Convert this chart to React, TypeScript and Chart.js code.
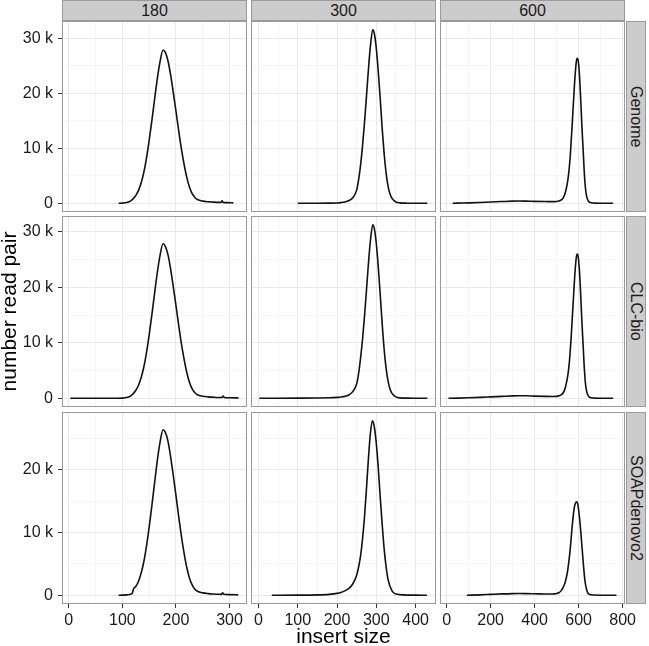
import React, { useEffect, useRef } from 'react';
import { Chart, registerables } from 'chart.js';

Chart.register(...registerables);

const FONT = "'Liberation Sans', Arial, Helvetica, sans-serif";

const columnLabels = ['180', '300', '600'];
const rowLabels = ['Genome', 'CLC-bio', 'SOAPdenovo2'];
const xAxisTitle = 'insert size';
const yAxisTitle = 'number read pair';

// ---- data: insert size (x) and number of read pairs (y) per panel ----
const genome180X = [93, 100, 110, 115, 120, 125, 130, 135, 140, 145, 150, 155, 160, 165, 170, 176, 180, 185, 190, 195, 200, 205, 210, 215, 220, 225, 230, 235, 240, 250, 260, 270, 280, 284, 286, 288, 295, 307];
const genome180Y = [0, 40, 200, 400, 800, 1400, 2300, 3700, 5600, 8200, 11400, 15000, 18800, 22500, 25600, 27900, 27500, 26000, 23400, 20200, 16800, 13300, 10000, 7200, 4800, 3000, 1800, 1100, 700, 400, 280, 220, 170, 160, 450, 170, 120, 80];

const clc180X = [3, 50, 90, 100, 110, 115, 120, 125, 130, 135, 140, 145, 150, 155, 160, 165, 170, 176, 180, 185, 190, 195, 200, 205, 210, 215, 220, 225, 230, 235, 240, 250, 260, 270, 280, 286, 288, 290, 300, 317];
const clc180Y = [0, 0, 10, 40, 200, 400, 800, 1400, 2300, 3700, 5600, 8200, 11400, 15000, 18800, 22500, 25600, 27850, 27450, 25950, 23350, 20150, 16750, 13250, 9950, 7150, 4750, 2950, 1750, 1050, 650, 380, 260, 200, 160, 150, 420, 160, 100, 60];

const soap180X = [93, 100, 110, 118, 121, 125, 130, 135, 140, 145, 150, 155, 160, 165, 170, 176, 180, 185, 190, 195, 200, 205, 210, 215, 220, 225, 230, 235, 240, 250, 260, 270, 280, 285, 287, 289, 300, 316];
const soap180Y = [0, 20, 80, 250, 1000, 1400, 2200, 3500, 5300, 7800, 10800, 14200, 17800, 21300, 24200, 26360, 26000, 24600, 22100, 19100, 15900, 12600, 9500, 6800, 4500, 2800, 1700, 1000, 650, 380, 260, 200, 160, 150, 400, 160, 110, 70];

const genome300X = [100, 150, 180, 200, 210, 220, 230, 240, 250, 255, 260, 265, 270, 275, 280, 285, 291, 295, 300, 305, 310, 315, 320, 325, 330, 335, 340, 350, 360, 380, 400, 430];
const genome300Y = [0, 5, 30, 70, 130, 250, 500, 1000, 2400, 4300, 7000, 10500, 14700, 19500, 24400, 28600, 31600, 30900, 28200, 24000, 19000, 13600, 9000, 5500, 3100, 1700, 900, 250, 80, 25, 10, 0];

const clc300X = [2, 50, 100, 150, 180, 200, 210, 220, 230, 240, 250, 255, 260, 265, 270, 275, 280, 285, 291, 295, 300, 305, 310, 315, 320, 325, 330, 335, 340, 350, 360, 380, 400, 430];
const clc300Y = [0, 10, 30, 60, 100, 170, 230, 350, 600, 1200, 2600, 4500, 7300, 10700, 14800, 19500, 24300, 28400, 31300, 30600, 27900, 23700, 18700, 13400, 8800, 5400, 3100, 1700, 900, 250, 80, 30, 15, 0];

const soap300X = [34, 100, 150, 180, 200, 210, 220, 230, 240, 250, 255, 260, 265, 270, 275, 280, 285, 290, 295, 300, 305, 310, 315, 320, 325, 330, 340, 350, 370, 400, 429];
const soap300Y = [0, 20, 60, 150, 300, 450, 700, 1100, 1800, 3200, 4500, 6300, 9000, 12500, 17000, 21800, 25800, 27800, 26800, 24200, 20300, 15600, 11300, 7400, 4500, 2500, 700, 200, 60, 20, 10];

const genome600X = [27, 50, 100, 150, 200, 250, 300, 330, 360, 400, 450, 480, 500, 510, 520, 530, 540, 550, 555, 560, 565, 570, 575, 580, 585, 590, 594, 598, 602, 606, 610, 615, 620, 625, 630, 635, 640, 650, 670, 700, 757];
const genome600Y = [0, 30, 80, 150, 230, 320, 400, 420, 400, 360, 320, 300, 330, 420, 600, 1000, 2000, 4000, 5500, 7600, 10500, 13800, 17300, 20800, 23800, 25900, 26400, 26000, 24400, 21800, 18500, 14000, 10200, 6200, 3200, 1600, 800, 180, 40, 10, 0];

const clc600X = [8, 50, 100, 150, 200, 250, 300, 330, 360, 400, 450, 480, 500, 510, 520, 530, 540, 550, 555, 560, 565, 570, 575, 580, 585, 590, 594, 598, 602, 606, 610, 615, 620, 625, 630, 635, 640, 650, 670, 700, 757];
const clc600Y = [0, 30, 90, 170, 260, 350, 440, 470, 450, 400, 350, 330, 350, 440, 620, 1000, 2000, 3900, 5400, 7500, 10300, 13600, 17100, 20500, 23500, 25500, 26000, 25600, 24000, 21500, 18200, 13800, 10000, 6100, 3100, 1550, 780, 180, 40, 10, 0];

const soap600X = [92, 150, 200, 250, 300, 330, 360, 400, 450, 480, 500, 510, 520, 530, 540, 550, 560, 565, 570, 575, 580, 585, 592, 597, 602, 607, 612, 617, 622, 627, 632, 640, 650, 670, 700, 772];
const soap600Y = [0, 60, 140, 220, 270, 280, 270, 240, 200, 200, 280, 400, 700, 1300, 2200, 3900, 6700, 8600, 10700, 12500, 13900, 14600, 14900, 14400, 13000, 11300, 9200, 7000, 4800, 2900, 1600, 500, 120, 40, 15, 0];

// ---- axis ticks ----
const x180Ticks = [0, 100, 200, 300];
const x180Minor = [50, 150, 250];
const x300Ticks = [0, 100, 200, 300, 400];
const x300Minor = [50, 150, 250, 350, 450];
const x600Ticks = [0, 200, 400, 600, 800];
const x600Minor = [100, 300, 500, 700];
const yTicksUpper = [0, 10000, 20000, 30000];
const yTicksLower = [0, 10000, 20000];
const yMinorTicks = [5000, 15000, 25000];

// axis limits (ggplot expanded ranges)
const xLimits = [[-12.5, 332.5], [-19, 452], [-30.5, 811]];
const yLimits = [[-1580, 33180], [-1565, 32865], [-1390, 29190]];

const panelX = [[genome180X, genome300X, genome600X], [clc180X, clc300X, clc600X], [soap180X, soap300X, soap600X]];
const panelY = [[genome180Y, genome300Y, genome600Y], [clc180Y, clc300Y, clc600Y], [soap180Y, soap300Y, soap600Y]];
const colMajor = [x180Ticks, x300Ticks, x600Ticks];
const colMinor = [x180Minor, x300Minor, x600Minor];
const rowMajor = [yTicksUpper, yTicksUpper, yTicksLower];

// ---- layout ----
const COL_LEFT = [62, 251, 440];
const PANEL_W = 185;
const ROW_TOP = [21, 216, 412];
const ROW_H = [191, 191, 192];
const Y_AXIS_W = 62;
const X_AXIS_H = 42;
const EXTRA_RIGHT = 14;

const MAJOR_GRID = '#e8e8e8';
const MINOR_GRID = '#f5f5f5';
const TICK_COLOR = '#333333';
const LABEL_COLOR = '#1a1a1a';
const BORDER_COLOR = '#9a9a9a';

const borderPlugin = {
  id: 'panelBorder',
  afterDraw(chart: any) {
    const { ctx, chartArea: a } = chart;
    ctx.save();
    ctx.strokeStyle = BORDER_COLOR;
    ctx.lineWidth = 1;
    ctx.strokeRect(Math.round(a.left) + 0.5, Math.round(a.top) + 0.5, Math.round(a.right - a.left) - 1, Math.round(a.bottom - a.top) - 1);
    ctx.restore();
  },
};

const fmtK = (v: number) => (v === 0 ? '0' : `${v / 1000} k`);

function Panel({ r, c }: { r: number; c: number }) {
  const ref = useRef<HTMLCanvasElement>(null);
  const showY = c === 0;
  const showX = r === 2;
  const padRight = showX && c === 2 ? EXTRA_RIGHT : 0;
  const left = showY ? COL_LEFT[c] - Y_AXIS_W : COL_LEFT[c];
  const top = ROW_TOP[r];
  const width = (showY ? Y_AXIS_W : 0) + PANEL_W + padRight;
  const height = ROW_H[r] + (showX ? X_AXIS_H : 0);

  useEffect(() => {
    const canvas = ref.current!;
    const [xMin, xMax] = xLimits[c];
    const [yMin, yMax] = yLimits[r];
    const xMajor = colMajor[c];
    const yMajor = rowMajor[r];
    const xAll = [...xMajor, ...colMinor[c]].filter((v) => v >= xMin && v <= xMax).sort((a, b) => a - b);
    const yAll = [...yMajor, ...yMinorTicks].filter((v) => v >= yMin && v <= yMax).sort((a, b) => a - b);
    const xs = panelX[r][c];
    const ys = panelY[r][c];
    const chart = new Chart(canvas, {
      type: 'line',
      data: {
        datasets: [
          {
            data: xs.map((x, i) => ({ x, y: ys[i] })),
            borderColor: '#111111',
            borderWidth: 1.6,
            pointRadius: 0,
            fill: false,
            cubicInterpolationMode: 'monotone',
          },
        ],
      },
      options: {
        animation: false,
        responsive: false,
        events: [],
        layout: { padding: { left: 0, top: 0, bottom: 0, right: padRight }, autoPadding: false },
        plugins: { legend: { display: false }, tooltip: { enabled: false } },
        scales: {
          x: {
            type: 'linear',
            min: xMin,
            max: xMax,
            afterBuildTicks: (s: any) => {
              s.ticks = xAll.map((v) => ({ value: v }));
            },
            afterFit: (s: any) => {
              s.height = showX ? X_AXIS_H : 0;
              s.paddingLeft = 0;
              s.paddingRight = 0;
            },
            border: { display: false },
            grid: {
              color: (ctx: any) => (xMajor.includes(ctx.tick?.value) ? MAJOR_GRID : MINOR_GRID),
              lineWidth: 1,
              drawTicks: showX,
              tickLength: 4,
              tickWidth: 1,
              tickColor: (ctx: any) => (xMajor.includes(ctx.tick?.value) ? TICK_COLOR : 'rgba(0,0,0,0)'),
            },
            ticks: {
              display: showX,
              autoSkip: false,
              maxRotation: 0,
              minRotation: 0,
              padding: 3,
              color: LABEL_COLOR,
              font: { family: FONT, size: 16 },
              callback: (v: any) => (xMajor.includes(v) ? String(v) : ''),
            },
            title: {
              display: showX && c === 1,
              text: xAxisTitle,
              color: '#000000',
              font: { family: FONT, size: 21, lineHeight: 0.85 },
              padding: { top: 0, bottom: 0 },
            },
          },
          y: {
            type: 'linear',
            min: yMin,
            max: yMax,
            afterBuildTicks: (s: any) => {
              s.ticks = yAll.map((v) => ({ value: v }));
            },
            afterFit: (s: any) => {
              s.width = showY ? Y_AXIS_W : 0;
              s.paddingTop = 0;
              s.paddingBottom = 0;
            },
            border: { display: false },
            grid: {
              color: (ctx: any) => (yMajor.includes(ctx.tick?.value) ? MAJOR_GRID : MINOR_GRID),
              lineWidth: 1,
              drawTicks: showY,
              tickLength: 4,
              tickWidth: 1,
              tickColor: (ctx: any) => (yMajor.includes(ctx.tick?.value) ? TICK_COLOR : 'rgba(0,0,0,0)'),
            },
            ticks: {
              display: showY,
              autoSkip: false,
              padding: 5,
              color: LABEL_COLOR,
              font: { family: FONT, size: 16 },
              callback: (v: any) => (yMajor.includes(v) ? fmtK(v) : ''),
            },
            title: {
              display: showY && r === 1,
              text: yAxisTitle,
              color: '#000000',
              font: { family: FONT, size: 21, lineHeight: 1 },
              padding: { top: 0, bottom: 0 },
            },
          },
        },
      },
      plugins: [borderPlugin],
    } as any);
    return () => chart.destroy();
  }, []);

  return (
    <canvas
      ref={ref}
      width={width}
      height={height}
      style={{ position: 'absolute', left, top, width, height }}
    />
  );
}

const stripBase: React.CSSProperties = {
  position: 'absolute',
  boxSizing: 'border-box',
  background: '#cccccc',
  border: `1px solid ${BORDER_COLOR}`,
  display: 'flex',
  alignItems: 'center',
  justifyContent: 'center',
  fontFamily: FONT,
  fontSize: 16,
  color: '#1a1a1a',
  lineHeight: 1,
};

export default function App() {
  const panels: React.ReactNode[] = [];
  for (let r = 0; r < 3; r++) {
    for (let c = 0; c < 3; c++) {
      panels.push(<Panel key={`${r}-${c}`} r={r} c={c} />);
    }
  }
  return (
    <div style={{ position: 'absolute', left: 0, top: 0, width: 649, height: 646, background: '#ffffff', overflow: 'hidden' }}>
      {panels}
      {columnLabels.map((lab, c) => (
        <div key={lab} style={{ ...stripBase, left: COL_LEFT[c], top: 0, width: PANEL_W, height: 21 }}>
          {lab}
        </div>
      ))}
      {rowLabels.map((lab, r) => (
        <div
          key={lab}
          style={{ ...stripBase, left: 626, top: ROW_TOP[r], width: 20, height: ROW_H[r], writingMode: 'vertical-rl' }}
        >
          {lab}
        </div>
      ))}
    </div>
  );
}
